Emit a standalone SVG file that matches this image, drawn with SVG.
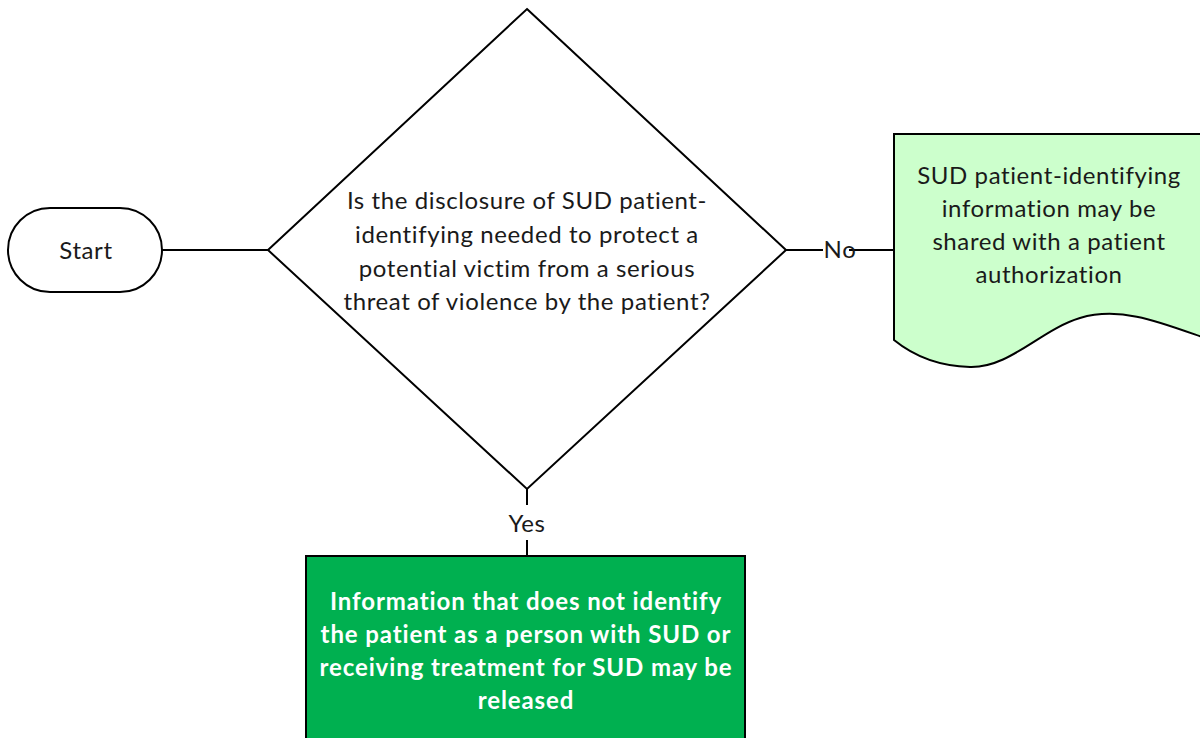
<svg xmlns="http://www.w3.org/2000/svg" width="1200" height="738" viewBox="0 0 1200 738">
  <style>
    .shape { stroke: #000; stroke-width: 2; }
    .wire { stroke: #000; stroke-width: 2; fill: none; }
    .txt { font-family: Lato, "Open Sans", "Liberation Sans", sans-serif; font-size: 24px; letter-spacing: 0.6px; fill: #1a1a1a; text-anchor: middle; }
    .bold { font-weight: bold; fill: #fff; letter-spacing: 0.9px; }
  </style>
  <rect width="1200" height="738" fill="#fff"/>

  <!-- connectors -->
  <g id="connectors">
    <line class="wire" x1="162" y1="250" x2="268" y2="250"/>
    <line class="wire" x1="786" y1="250" x2="823" y2="250"/>
    <line class="wire" x1="849" y1="250" x2="894" y2="250"/>
    <text class="txt" x="840" y="258">No</text>
    <line class="wire" x1="527" y1="489" x2="527" y2="505"/>
    <line class="wire" x1="527" y1="540" x2="527" y2="556"/>
    <text class="txt" x="527" y="532">Yes</text>
  </g>

  <!-- start terminator -->
  <g id="start">
    <rect class="shape" x="8" y="208" width="154" height="84" rx="42" ry="42" fill="#fff"/>
    <text class="txt" x="86" y="259">Start</text>
  </g>

  <!-- decision -->
  <g id="decision">
    <polygon class="shape" points="527,9 786,250 527,489 268,250" fill="#fff"/>
    <text class="txt" x="527" y="209">Is the disclosure of SUD patient-</text>
    <text class="txt" x="527" y="243">identifying needed to protect a</text>
    <text class="txt" x="527" y="277">potential victim from a serious</text>
    <text class="txt" x="527" y="310">threat of violence by the patient?</text>
  </g>

  <!-- outcome: authorization -->
  <g id="authorization">
    <path class="shape" fill="#CCFFCC" d="M894,134 H1202 V337 C1160,322 1120,306 1080,318 C1040,330 1010,368 970,367 C935,366 910,353 894,340 Z"/>
    <text class="txt" x="1049" y="184">SUD patient-identifying</text>
    <text class="txt" x="1049" y="217">information may be</text>
    <text class="txt" x="1049" y="250">shared with a patient</text>
    <text class="txt" x="1049" y="283">authorization</text>
  </g>

  <!-- outcome: release -->
  <g id="release">
    <rect class="shape" x="306" y="556" width="439" height="190" fill="#00B050"/>
    <text class="txt bold" x="526" y="610">Information that does not identify</text>
    <text class="txt bold" x="526" y="643">the patient as a person with SUD or</text>
    <text class="txt bold" x="526" y="676">receiving treatment for SUD may be</text>
    <text class="txt bold" x="526" y="709">released</text>
  </g>
</svg>
